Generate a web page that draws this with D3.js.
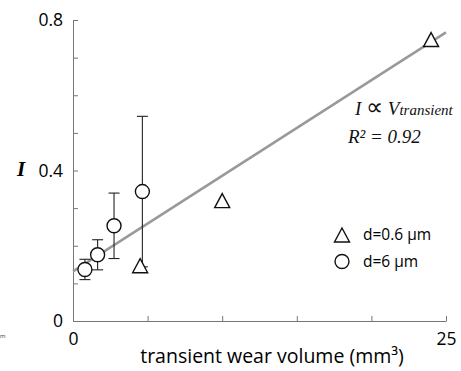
<!DOCTYPE html>
<html>
<head>
<meta charset="utf-8">
<script src="https://cdn.jsdelivr.net/npm/d3@7"></script>
<style>
  body { margin: 0; background: #fff; }
  svg { display: block; font-family: "Open Sans", sans-serif; }
</style>
</head>
<body>
<script>
// d = 6 um (circles, with error bars)
const circVol = [0.8, 1.65, 2.75, 4.65];
const circI = [0.137, 0.176, 0.253, 0.344];
const circErr = [0.027, 0.04, 0.087, 0.2];

// d = 0.6 um (triangles)
const triVol = [4.5, 10.0, 24.0];
const triI = [0.147, 0.32, 0.748];

// linear fit I = a + b * V
const fitA = 0.132, fitB = 0.0254;
const fitRange = [0, 25];

const xTicks = [0, 5, 10, 15, 20, 25];
const yTicks = [0, 0.1, 0.2, 0.3, 0.4, 0.5, 0.6, 0.7, 0.8];
const xLabelled = [0, 25];
const yLabelled = [0, 0.4, 0.8];

const width = 461, height = 371;
const margin = { left: 73, right: 15, top: 20, bottom: 50 };

const svg = d3.select('body').append('svg')
  .attr('width', width)
  .attr('height', height);

const x = d3.scaleLinear().domain([0, 25]).range([margin.left, width - margin.right]);
const y = d3.scaleLinear().domain([0, 0.8]).range([height - margin.bottom, margin.top]);

/* axes */
const xAxis = d3.axisBottom(x)
  .tickValues(xTicks)
  .tickSizeInner(-5)
  .tickSizeOuter(0)
  .tickPadding(9)
  .tickFormat(d => xLabelled.includes(d) ? d3.format('d')(d) : '');

const yAxis = d3.axisLeft(y)
  .tickValues(yTicks)
  .tickSizeInner(-5)
  .tickSizeOuter(0)
  .tickPadding(10)
  .tickFormat(d => yLabelled.some(v => Math.abs(v - d) < 1e-9) ? (d === 0 ? '0' : d3.format('.1f')(d)) : '');

const gx = svg.append('g')
  .attr('transform', `translate(0,${y(0)})`)
  .call(xAxis);
const gy = svg.append('g')
  .attr('transform', `translate(${x(0)},0)`)
  .call(yAxis);

[gx, gy].forEach(g => {
  g.select('.domain').attr('stroke', '#777');
  g.selectAll('.tick line').attr('stroke', '#777');
  g.selectAll('.tick text')
    .attr('fill', '#000')
    .style('font-family', '"Open Sans", sans-serif')
    .style('font-size', '17.5px');
});
gx.selectAll('.tick text').attr('dy', '0.85em');

svg.append('text')
  .attr('x', 272)
  .attr('y', 363)
  .attr('text-anchor', 'middle')
  .style('font-size', '19.5px')
  .attr('fill', '#000')
  .text('transient wear volume (mm³)');

svg.append('text')
  .attr('x', 21)
  .attr('y', 176)
  .attr('text-anchor', 'middle')
  .style('font-family', '"Liberation Serif", serif')
  .style('font-style', 'italic')
  .style('font-weight', 'bold')
  .style('font-size', '21px')
  .text('I');

// small fragment at the far left edge
svg.append('text')
  .attr('x', 0)
  .attr('y', 338)
  .style('font-size', '6px')
  .attr('fill', '#333')
  .text('m');

/* fit line */
svg.append('line')
  .attr('x1', x(fitRange[0]))
  .attr('y1', y(fitA + fitB * fitRange[0]))
  .attr('x2', x(fitRange[1]))
  .attr('y2', y(fitA + fitB * fitRange[1]))
  .attr('stroke', '#999')
  .attr('stroke-width', 2.5);

/* error bars */
const cap = 5.5;
const circData = circVol.map((v, i) => ({ v, I: circI[i], e: circErr[i] }));
const eb = svg.append('g').attr('stroke', '#222').attr('stroke-width', 1.1);
circData.forEach(d => {
  eb.append('line')
    .attr('x1', x(d.v)).attr('x2', x(d.v))
    .attr('y1', y(d.I + d.e)).attr('y2', y(d.I - d.e));
  [d.I + d.e, d.I - d.e].forEach(t => {
    eb.append('line')
      .attr('x1', x(d.v) - cap).attr('x2', x(d.v) + cap)
      .attr('y1', y(t)).attr('y2', y(t));
  });
});

/* triangles */
const triPath = (cx, cy) => {
  const hw = 7.5, hh = 7;
  return `M${cx},${cy - hh}L${cx + hw},${cy + hh}L${cx - hw},${cy + hh}Z`;
};
svg.append('g')
  .selectAll('path')
  .data(triVol.map((v, i) => ({ v, I: triI[i] })))
  .enter().append('path')
  .attr('d', d => triPath(x(d.v), y(d.I)))
  .attr('fill', '#fff')
  .attr('stroke', '#111')
  .attr('stroke-width', 1.4);

/* circles */
svg.append('g')
  .selectAll('circle')
  .data(circData)
  .enter().append('circle')
  .attr('cx', d => x(d.v))
  .attr('cy', d => y(d.I))
  .attr('r', 7)
  .attr('fill', '#fff')
  .attr('stroke', '#111')
  .attr('stroke-width', 1.4);

/* annotation */
const ann = svg.append('text')
  .attr('x', 355)
  .attr('y', 115)
  .style('font-family', '"Liberation Serif", serif')
  .style('font-style', 'italic')
  .style('font-size', '19px')
  .attr('fill', '#111');
ann.append('tspan').text('I ');
ann.append('tspan').style('font-style', 'normal').style('font-size', '24px').text('∝');
ann.append('tspan').text(' V');
ann.append('tspan').style('font-size', '15px').text('transient');

svg.append('text')
  .attr('x', 348)
  .attr('y', 143)
  .style('font-family', '"Liberation Serif", serif')
  .style('font-style', 'italic')
  .style('font-size', '19px')
  .attr('fill', '#111')
  .text('R² = 0.92');

/* legend */
const legend = svg.append('g');
legend.append('path')
  .attr('d', triPath(342, 235))
  .attr('fill', '#fff')
  .attr('stroke', '#111')
  .attr('stroke-width', 1.4);
legend.append('circle')
  .attr('cx', 342).attr('cy', 261.5).attr('r', 7)
  .attr('fill', '#fff')
  .attr('stroke', '#111')
  .attr('stroke-width', 1.4);
legend.append('text')
  .attr('x', 363).attr('y', 240)
  .style('font-size', '15.5px')
  .attr('fill', '#000')
  .text('d=0.6 µm');
legend.append('text')
  .attr('x', 363).attr('y', 266.5)
  .style('font-size', '15.5px')
  .attr('fill', '#000')
  .text('d=6 µm');
</script>
</body>
</html>
